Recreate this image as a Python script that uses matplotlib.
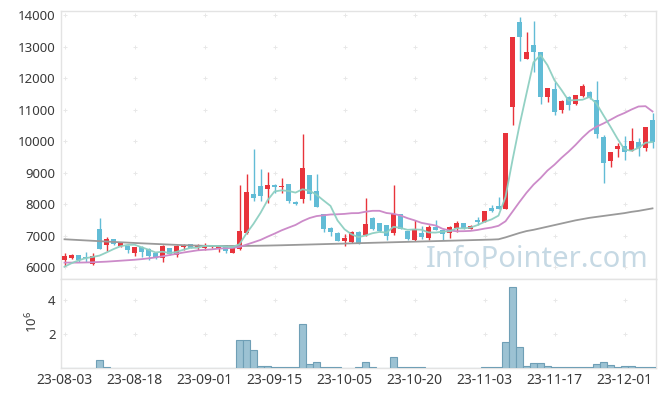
import matplotlib
matplotlib.use('Agg')
import matplotlib.pyplot as plt
import numpy as np
import pandas as pd

# ---------------- data ----------------
opens = [6230, 6300, 6390, 6330, 6100, 7210, 6700, 6900, 6690, 6680,
         6460, 6660, 6590, 6440, 6300, 6600, 6390, 6655, 6740, 6635,
         6600, 6640, 6580, 6700, 6470, 6580, 7080, 8320, 8580, 8470,
         8610, 8550, 8640, 8080, 8170, 8930, 8430, 7680, 7260, 7100,
         6840, 6810, 7120, 7020, 7580, 7420, 7330, 7100, 7690, 7150,
         6870, 7100, 6930, 7290, 7180, 7100, 7260, 7415, 7230, 7500,
         7450, 7880, 7940, 7860, 11090, 13780, 12620, 13060, 12840, 11400,
         11650, 10980, 11390, 11170, 11430, 11550, 11300, 10120, 9380, 9740,
         9850, 9700, 9980, 9790, 10670]
highs = [6440, 6420, 6400, 6480, 6440, 7580, 6950, 6900, 6790, 6700,
         6650, 6680, 6600, 6450, 6700, 6620, 6700, 6730, 6740, 6730,
         6760, 6690, 6700, 6700, 6620, 8610, 8960, 9750, 9110, 9020,
         8650, 8820, 8650, 8100, 10230, 8930, 8950, 7700, 7270, 7130,
         7050, 7140, 7140, 8190, 7600, 7420, 7340, 8610, 7700, 7160,
         7500, 7310, 7340, 7500, 7190, 7310, 7480, 7420, 7330, 7600,
         7800, 7990, 8220, 10260, 13300, 13930, 13450, 13800, 12840, 11700,
         11880, 11300, 11420, 11470, 11810, 11600, 11920, 10200, 9660, 9930,
         10160, 10410, 10090, 10460, 10880]
lows = [6050, 6280, 6180, 6180, 6080, 6570, 6530, 6700, 6640, 6470,
        6370, 6340, 6230, 6250, 6180, 6380, 6340, 6560, 6600, 6560,
        6560, 6620, 6500, 6460, 6460, 6560, 7050, 8100, 8110, 8030,
        8350, 8370, 8030, 7970, 8030, 8150, 7900, 7130, 6990, 6830,
        6690, 6760, 6730, 7000, 7180, 7130, 6870, 7010, 7200, 6880,
        6830, 6890, 6870, 7170, 6870, 6920, 7130, 7200, 7200, 7340,
        7440, 7770, 7840, 7850, 10500, 12530, 12600, 12210, 11190, 11230,
        10840, 10890, 10990, 11160, 11400, 11330, 10090, 8690, 9170, 9490,
        9420, 9690, 9540, 9700, 9770]
closes = [6370, 6390, 6220, 6300, 6360, 6590, 6890, 6750, 6760, 6560,
          6630, 6490, 6360, 6320, 6680, 6410, 6675, 6705, 6620, 6700,
          6700, 6670, 6700, 6530, 6620, 7150, 8390, 8210, 8260, 8610,
          8560, 8570, 8110, 8000, 9140, 8340, 7920, 7210, 7130, 6840,
          6940, 7120, 6760, 7390, 7200, 7150, 7000, 7690, 7210, 6900,
          7210, 6950, 7270, 7180, 7050, 7270, 7420, 7257, 7310, 7440,
          7790, 7800, 7860, 10260, 13300, 13310, 12830, 12820, 11400, 11690,
          10920, 11290, 11160, 11460, 11750, 11360, 10230, 9300, 9650, 9850,
          9670, 10010, 9770, 10460, 9960]
volumes_m = [0.01, 0.01, 0.01, 0.01, 0.01, 0.47, 0.05, 0.01, 0.01, 0.01,
             0.01, 0.01, 0.01, 0.01, 0.01, 0.01, 0.01, 0.01, 0.01, 0.01,
             0.01, 0.01, 0.01, 0.01, 0.01, 1.66, 1.66, 1.08, 0.14, 0.14,
             0.04, 0.04, 0.04, 0.04, 2.55, 0.25, 0.33, 0.08, 0.04, 0.04,
             0.01, 0.01, 0.04, 0.37, 0.04, 0.01, 0.01, 0.66, 0.08, 0.04,
             0.04, 0.04, 0.01, 0.01, 0.01, 0.01, 0.01, 0.01, 0.01, 0.01,
             0.04, 0.04, 0.04, 1.49, 4.72, 1.25, 0.14, 0.31, 0.31, 0.14,
             0.08, 0.04, 0.04, 0.04, 0.08, 0.04, 0.25, 0.37, 0.19, 0.04,
             0.14, 0.14, 0.04, 0.08, 0.08]
# moving-average values before enough history exists in the window
ma5_head = [6020, 6130, 6220, 6290]
ma20_head = [6150, 6150, 6150, 6155, 6160, 6170, 6180, 6195, 6210, 6225,
             6240, 6260, 6285, 6315, 6350, 6390, 6430, 6470, 6505]
ma_long = [6890, 6878, 6866, 6854, 6842, 6830, 6818, 6806, 6795, 6784,
           6773, 6762, 6752, 6742, 6732, 6722, 6713, 6704, 6696, 6689,
           6683, 6680, 6678, 6677, 6677, 6678, 6680, 6683, 6686, 6690,
           6695, 6700, 6706, 6712, 6718, 6724, 6730, 6736, 6742, 6748,
           6754, 6760, 6766, 6772, 6778, 6784, 6790, 6796, 6802, 6808,
           6814, 6820, 6826, 6832, 6838, 6844, 6850, 6856, 6862, 6868,
           6874, 6880, 6890, 6950, 7020, 7090, 7150, 7190, 7240, 7290,
           7340, 7390, 7440, 7490, 7530, 7570, 7600, 7630, 7660, 7690,
           7720, 7760, 7790, 7830, 7870]
tick_labels = ['23-08-03', '23-08-18', '23-09-01', '23-09-15', '23-10-05',
               '23-10-20', '23-11-03', '23-11-17', '23-12-01']
tick_positions = [0, 10, 20, 30, 40, 50, 60, 70, 80]
price_ticks = [6000, 7000, 8000, 9000, 10000, 11000, 12000, 13000, 14000]
vol_ticks = [2, 4]
watermark = 'InfoPointer.com'

# ---------------- style ----------------
plt.rcParams['font.family'] = ['Noto Sans', 'DejaVu Sans']
plt.rcParams['mathtext.fontset'] = 'custom'
plt.rcParams['mathtext.rm'] = 'Noto Sans'
plt.rcParams['mathtext.it'] = 'Noto Sans'
UP = '#e8333b'
DOWN = '#62bcd6'
SPINE = '#e3e3e3'
TXT = '#3a3a3a'

W, H = 665, 397
fig = plt.figure(figsize=(W / 100, H / 100), dpi=100)
L, R = 61, 656
ax = fig.add_axes([L / W, 1 - 279 / H, (R - L) / W, (279 - 11) / H])
axv = fig.add_axes([L / W, 1 - 368 / H, (R - L) / W, (368 - 279) / H], sharex=ax)

n = len(closes)
x = np.arange(n)
o = np.array(opens, float)
c = np.array(closes, float)
hi = np.array(highs, float)
lo = np.array(lows, float)
up = c >= o
cols = np.where(up, UP, DOWN)

# wicks
ax.vlines(x, lo, hi, colors=cols, linewidth=1.0, zorder=3)
# bodies
body_h = np.maximum(np.abs(c - o), 15)
ax.bar(x, body_h, bottom=np.minimum(o, c), width=0.68, color=cols,
       linewidth=0, zorder=4)

# moving averages
s = pd.Series(closes, dtype=float)
ma5 = s.rolling(5).mean().to_numpy()
ma5[:len(ma5_head)] = ma5_head
ma20 = s.rolling(20).mean().to_numpy()
ma20[:len(ma20_head)] = ma20_head
ax.plot(x, ma_long, color='#9a9a9a', lw=1.3, zorder=5)
ax.plot(x, ma20, color='#cc8bc9', lw=1.3, zorder=5)
ax.plot(x, ma5, color='#8dcfc1', lw=1.3, alpha=0.95, zorder=5)

# watermark
ax.text(0.987, 0.045, watermark, transform=ax.transAxes, ha='right',
        va='baseline', fontsize=21, color='#c6d9e4', zorder=1)

ax.set_xlim(-0.5, n - 0.5)
ax.set_ylim(5630, 14130)
ax.set_yticks(price_ticks)
ax.set_yticklabels([str(t) for t in price_ticks])

# volume
axv.bar(x, volumes_m, width=1.0, color='#9cc2d3', edgecolor='#6f9fb6',
        linewidth=0.8, zorder=3)
axv.set_ylim(0, 5.2)
axv.set_yticks(vol_ticks)
axv.set_yticklabels([str(t) for t in vol_ticks])
axv.set_xticks(tick_positions)
axv.set_xticklabels(tick_labels)
fig.text(32 / W, 1 - 322 / H, r'$10^{6}$', rotation=90, ha='center',
         va='center', fontsize=9.5, color=TXT)

# cross markers at grid intersections
for a, yt in ((ax, price_ticks), (axv, vol_ticks)):
    gx, gy = np.meshgrid(tick_positions, yt)
    a.plot(gx.ravel(), gy.ravel(), linestyle='none', marker='+', ms=3,
           mew=0.7, color='#e8e8e8', zorder=0)

for a in (ax, axv):
    for sp in a.spines.values():
        sp.set_color(SPINE)
        sp.set_linewidth(1.0)
    a.tick_params(length=0, labelsize=9.5, colors=TXT, pad=4)
plt.setp(ax.get_xticklabels(), visible=False)
axv.tick_params(axis='x', pad=3.5, labelsize=10)

fig.savefig('out.png', dpi=100)
